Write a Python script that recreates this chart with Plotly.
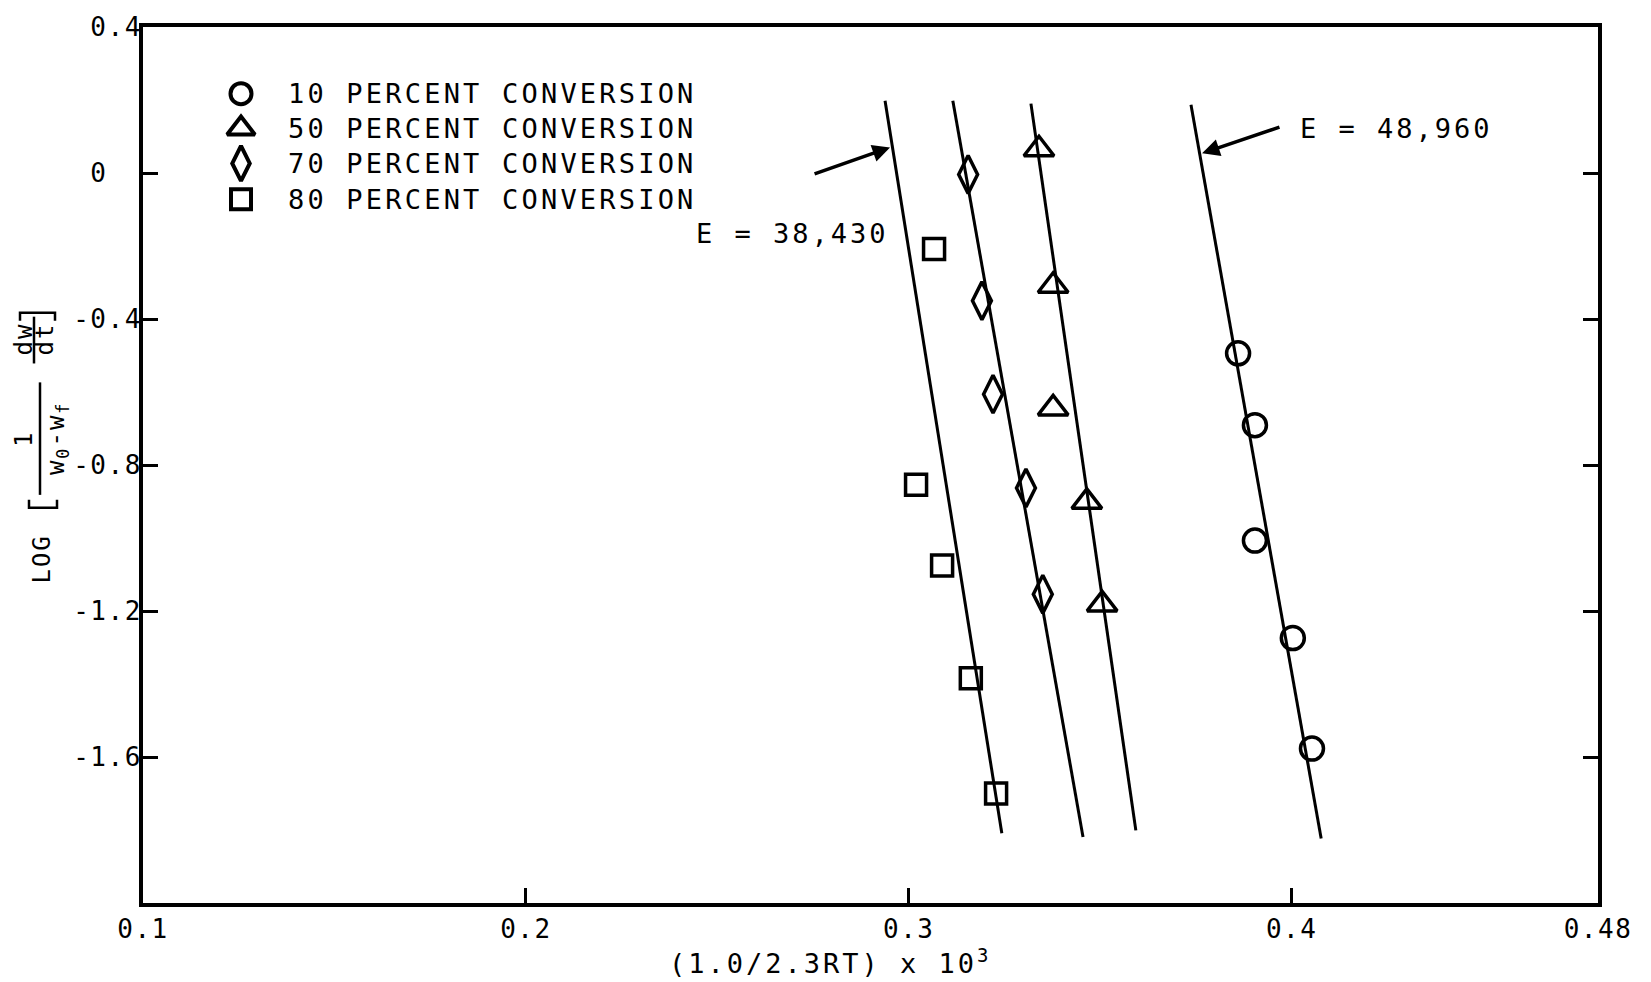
import plotly.graph_objects as go

# ---- measured points, log rate vs (1.0/2.3RT) x 10^3 ----
conv10_x = [0.3860, 0.3904, 0.3904, 0.4003, 0.4053]
conv10_y = [-0.494, -0.691, -1.007, -1.274, -1.577]

conv50_x = [0.3340, 0.3377, 0.3377, 0.3465, 0.3505]
conv50_y = [0.065, -0.309, -0.645, -0.901, -1.182]

conv70_x = [0.3155, 0.3191, 0.3220, 0.3306, 0.3350]
conv70_y = [-0.004, -0.350, -0.606, -0.863, -1.154]

conv80_x = [0.3066, 0.3019, 0.3087, 0.3162, 0.3228]
conv80_y = [-0.208, -0.854, -1.075, -1.384, -1.700]

# ---- straight-line fits (end points) ----
fit80_x = [0.2938, 0.3243]
fit80_y = [0.198, -1.809]
fit70_x = [0.3115, 0.3455]
fit70_y = [0.198, -1.819]
fit50_x = [0.3319, 0.3593]
fit50_y = [0.190, -1.801]
fit10_x = [0.3737, 0.4077]
fit10_y = [0.187, -1.823]

# ---- axes ----
x_ticks = [0.1, 0.2, 0.3, 0.4, 0.48]
x_tick_text = ["0.1", "0.2", "0.3", "0.4", "0.48"]
y_ticks = [0.4, 0.0, -0.4, -0.8, -1.2, -1.6]
# labels are aligned on the decimal point
y_tick_text = ["0.4", "0\u00a0\u00a0", "-0.4", "-0.8", "-1.2", "-1.6"]

series_names = ["10 PERCENT CONVERSION", "50 PERCENT CONVERSION",
                "70 PERCENT CONVERSION", "80 PERCENT CONVERSION"]

energy_labels = ["E = 38,430", "E = 48,960"]

FONT = "DejaVu Sans Mono"
INK = "black"

W, H = 1651, 982
L, R, T, B = 143, 53, 23, 79
PW, PH = W - L - R, H - T - B


def px(xp):
    return (xp - L) / PW


def py(yp):
    return (H - B - yp) / PH


def spaced(s, gap):
    return f'<span style="letter-spacing:{gap}px">{s}</span>'


fig = go.Figure()

fits = [(fit80_x, fit80_y), (fit70_x, fit70_y), (fit50_x, fit50_y), (fit10_x, fit10_y)]
for fx, fy in fits:
    fig.add_trace(go.Scatter(x=fx, y=fy, mode="lines", showlegend=False,
                             line=dict(color=INK, width=3), hoverinfo="skip"))

symbols = ["circle-open", "triangle-up-open", "diamond-tall-open", "square-open"]
plot_sizes = [23, 26, 27, 21]
key_sizes = [21, 24, 25, 20]
marker_sets = [(conv10_x, conv10_y), (conv50_x, conv50_y),
               (conv70_x, conv70_y), (conv80_x, conv80_y)]
for (mx, my), sym, size, name in zip(marker_sets, symbols, plot_sizes, series_names):
    fig.add_trace(go.Scatter(
        x=mx, y=my, mode="markers", name=name, showlegend=False,
        marker=dict(symbol=sym, size=size, color=INK, line=dict(color=INK, width=3.5)),
    ))

# key: sample symbols on an overlay axis spanning the plot area (0..1)
key_rows = [90, 125, 160, 196]
for sym, size, row in zip(symbols, key_sizes, key_rows):
    fig.add_trace(go.Scatter(
        x=[px(241)], y=[py(row)], xaxis="x2", yaxis="y2", mode="markers",
        showlegend=False, hoverinfo="skip", cliponaxis=False,
        marker=dict(symbol=sym, size=size, color=INK, line=dict(color=INK, width=4)),
    ))
for name, row in zip(series_names, key_rows):
    fig.add_annotation(x=px(286), y=py(row), xref="paper", yref="paper",
                       xanchor="left", yanchor="middle", showarrow=False,
                       text=spaced(name, 3.2), font=dict(family=FONT, size=27, color=INK))

# arrows pointing at the outer fit lines
fig.add_annotation(x=0.2951, y=0.070, ax=0.2750, ay=-0.004, xref="x", yref="y",
                   axref="x", ayref="y", text="", showarrow=True,
                   arrowhead=2, arrowsize=1.0, arrowwidth=3.5, arrowcolor=INK)
fig.add_annotation(x=0.3766, y=0.054, ax=0.3972, ay=0.127, xref="x", yref="y",
                   axref="x", ayref="y", text="", showarrow=True,
                   arrowhead=2, arrowsize=1.0, arrowwidth=3.5, arrowcolor=INK)
fig.add_annotation(x=0.2695, y=-0.165, xref="x", yref="y", text=spaced(energy_labels[0], 3),
                   xanchor="center", yanchor="middle",
                   showarrow=False, font=dict(family=FONT, size=27, color=INK))
fig.add_annotation(x=0.4275, y=0.122, xref="x", yref="y", text=spaced(energy_labels[1], 3),
                   xanchor="center", yanchor="middle",
                   showarrow=False, font=dict(family=FONT, size=27, color=INK))

# x-axis title
fig.add_annotation(x=px(830), y=py(962), xref="paper", yref="paper",
                   xanchor="center", yanchor="middle",
                   text=spaced("(1.0/2.3RT) x 10<sup>3</sup>", 3), showarrow=False,
                   font=dict(family=FONT, size=27, color=INK))

# rotated y-axis title: LOG [ 1/(w0-wf) dw/dt ]
ttl = dict(family=FONT, size=24, color=INK)


def ytext(xp, yp, s):
    fig.add_annotation(x=px(xp), y=py(yp), xref="paper", yref="paper",
                       xanchor="center", yanchor="middle", text=spaced(s, 2),
                       textangle=-90, showarrow=False, font=ttl)


ytext(42, 558, "LOG")
ytext(24, 437, "1")
ytext(57, 436, "w<sub>0</sub>-w<sub>f</sub>")
ytext(24, 337, "dw")
ytext(45, 337, "dt")

line_style = dict(color=INK, width=2.5)
# fraction bars
fig.add_shape(type="line", xref="paper", yref="paper",
              x0=px(40), x1=px(40), y0=py(380), y1=py(493), line=line_style)
fig.add_shape(type="line", xref="paper", yref="paper",
              x0=px(34), x1=px(34), y0=py(314), y1=py(361), line=line_style)
# brackets
fig.add_shape(type="path", xref="paper", yref="paper",
              path=f"M {px(29)} {py(498)} L {px(29)} {py(506)} L {px(57)} {py(506)} L {px(57)} {py(498)}",
              line=line_style)
fig.add_shape(type="path", xref="paper", yref="paper",
              path=f"M {px(20)} {py(318)} L {px(20)} {py(310)} L {px(55)} {py(310)} L {px(55)} {py(318)}",
              line=line_style)

axis_common = dict(ticks="inside", ticklen=15, tickwidth=3, tickcolor=INK,
                   showline=True, linewidth=4, linecolor=INK,
                   showgrid=False, zeroline=False,
                   tickfont=dict(family=FONT, size=26, color=INK))

fig.update_layout(
    width=W, height=H,
    margin=dict(l=L, r=R, t=T, b=B),
    paper_bgcolor="white", plot_bgcolor="white",
    font=dict(family=FONT, size=26, color=INK),
    showlegend=False,
    xaxis=dict(range=[0.1, 0.48], tickvals=x_ticks,
               ticktext=[spaced(t, 1.5) for t in x_tick_text],
               mirror=True, **axis_common),
    yaxis=dict(range=[-2.0, 0.4], tickvals=y_ticks,
               ticktext=[spaced(t, 1.5) for t in y_tick_text],
               mirror="ticks", ticklabelstandoff=-8, **axis_common),
    xaxis2=dict(overlaying="x", range=[0, 1], visible=False, fixedrange=True),
    yaxis2=dict(overlaying="y", range=[0, 1], visible=False, fixedrange=True),
)

fig.write_html("out.html")
